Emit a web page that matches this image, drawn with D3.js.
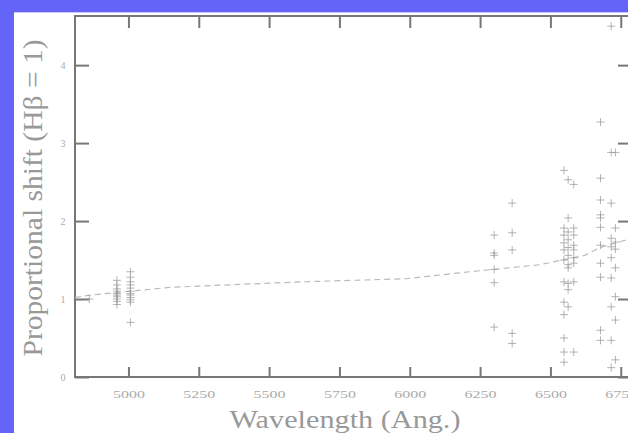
<!DOCTYPE html>
<html>
<head>
  <script src="https://d3js.org/d3.v7.min.js"></script>
  <style>
    body { margin: 0; background: #6464f8; overflow: hidden; }
    svg { display: block; }
    .tick text { font-family: "Liberation Serif", "DejaVu Serif", serif; fill: #aaa; }
    .title { font-family: "Liberation Serif", "DejaVu Serif", serif; fill: #999; }
  </style>
</head>
<body>
<div id="chart"></div>
<script>
  // x tick labels and y tick labels
  const xTicks = [5000, 5250, 5500, 5750, 6000, 6250, 6500, 6750];
  const yTicks = [0, 1, 2, 3, 4];

  // measured proportional shifts per emission line (Angstrom)
  const hbeta4861 = [1.0];
  const oiii4959 = [1.24, 1.18, 1.13, 1.1, 1.07, 1.05, 1.03, 1.0, 0.97, 0.93];
  const oiii5007 = [1.35, 1.28, 1.22, 1.18, 1.14, 1.1, 1.07, 1.05, 1.02, 0.99, 0.96, 0.7];
  const oi6300 = [1.82, 1.59, 1.56, 1.38, 1.21, 0.64];
  const oi6364 = [2.23, 1.85, 1.63, 0.56, 0.43];
  const nii6548 = [2.65, 1.91, 1.82, 1.72, 1.63, 1.5, 1.22, 0.96, 0.8, 0.5, 0.32, 0.19];
  const halpha6563 = [2.53, 2.04, 1.86, 1.76, 1.66, 1.56, 1.44, 1.4, 1.2, 1.12, 0.9];
  const nii6583 = [2.47, 1.91, 1.82, 1.69, 1.63, 1.53, 1.46, 1.22, 0.32];
  const hei6678 = [3.27, 2.55, 2.27, 2.08, 2.04, 1.92, 1.69, 1.46, 1.28, 0.6, 0.47];
  const sii6716 = [4.5, 2.88, 2.23, 1.78, 1.67, 1.53, 1.27, 0.9, 0.47, 0.12];
  const sii6731 = [2.88, 1.91, 1.73, 1.64, 1.4, 1.03, 0.73, 0.22];

  // dashed model curve
  const modelWave = [4810, 4863, 5148, 5610, 5985, 6213, 6462, 6622, 6676, 6790];
  const modelShift = [1.02, 1.05, 1.15, 1.22, 1.26, 1.35, 1.44, 1.56, 1.66, 1.78];

  const lines = [
    [4861, hbeta4861], [4959, oiii4959], [5007, oiii5007],
    [6300, oi6300], [6364, oi6364],
    [6548, nii6548], [6563, halpha6563], [6583, nii6583],
    [6678, hei6678], [6716, sii6716], [6731, sii6731]
  ];
  const points = [];
  lines.forEach(([w, vals]) => vals.forEach(v => points.push({ w: w, v: v })));

  const W = 628, H = 433;
  const svg = d3.select("#chart").append("svg")
    .attr("width", W).attr("height", H);

  // white panel
  svg.append("rect").attr("x", 14).attr("y", 12)
    .attr("width", W).attr("height", H).attr("fill", "#ffffff");
  svg.append("line").attr("x1", 14).attr("x2", W).attr("y1", 12.5).attr("y2", 12.5)
    .attr("stroke", "#c8c8ff").attr("stroke-width", 1);

  const x = d3.scaleLinear().domain([4810, 6790]).range([75, 632]);
  const y = d3.scaleLinear().domain([0, 4.63]).range([377, 16]);

  // bottom axis (inward ticks)
  const gx = svg.append("g").attr("transform", "translate(0,377)")
    .call(d3.axisBottom(x).tickValues(xTicks).tickSize(-10).tickPadding(13).tickFormat(d3.format("d")));
  gx.selectAll("text").attr("font-size", 11).attr("textLength", 32).attr("lengthAdjust", "spacingAndGlyphs");

  // top axis ticks
  svg.append("g").attr("transform", "translate(0,16)")
    .call(d3.axisTop(x).tickValues(xTicks).tickSize(-12).tickFormat(""));

  // left axis
  const gy = svg.append("g").attr("transform", "translate(75,0)")
    .call(d3.axisLeft(y).tickValues(yTicks).tickSize(-14).tickPadding(20).tickFormat(d3.format("d")));
  gy.selectAll("text").attr("font-size", 10).attr("text-anchor", "middle").attr("dx", 8);

  // right axis ticks
  svg.append("g").attr("transform", "translate(632,0)")
    .call(d3.axisRight(y).tickValues(yTicks).tickSize(-14).tickFormat(""));

  svg.selectAll(".domain").remove();
  svg.selectAll(".tick line").attr("stroke", "#777").attr("stroke-width", 2);

  // frame
  svg.append("rect").attr("x", 75).attr("y", 16)
    .attr("width", 632 - 75).attr("height", 377 - 16)
    .attr("fill", "none").attr("stroke", "#777").attr("stroke-width", 2);

  // dashed model line
  const model = modelWave.map((w, i) => [w, modelShift[i]]);
  svg.append("path").datum(model)
    .attr("fill", "none").attr("stroke", "#bbb").attr("stroke-width", 1.2)
    .attr("stroke-dasharray", "6,4")
    .attr("d", d3.line().x(d => x(d[0])).y(d => y(d[1])));

  // plus markers
  svg.selectAll(".pt").data(points).enter().append("path")
    .attr("class", "pt")
    .attr("transform", d => "translate(" + x(d.w) + "," + y(d.v) + ")")
    .attr("d", "M-4,0H4M0,-4V4")
    .attr("stroke", "#999").attr("stroke-width", 1).attr("stroke-opacity", 0.75);

  // axis titles
  svg.append("text").attr("class", "title")
    .attr("x", 345).attr("y", 428)
    .attr("text-anchor", "middle")
    .attr("font-size", 26)
    .attr("textLength", 231).attr("lengthAdjust", "spacingAndGlyphs")
    .text("Wavelength  (Ang.)");

  svg.append("text").attr("class", "title")
    .attr("transform", "translate(42,198) rotate(-90)")
    .attr("text-anchor", "middle")
    .attr("font-size", 28)
    .attr("textLength", 317).attr("lengthAdjust", "spacingAndGlyphs")
    .text("Proportional shift (Hβ = 1)");
</script>
</body>
</html>
